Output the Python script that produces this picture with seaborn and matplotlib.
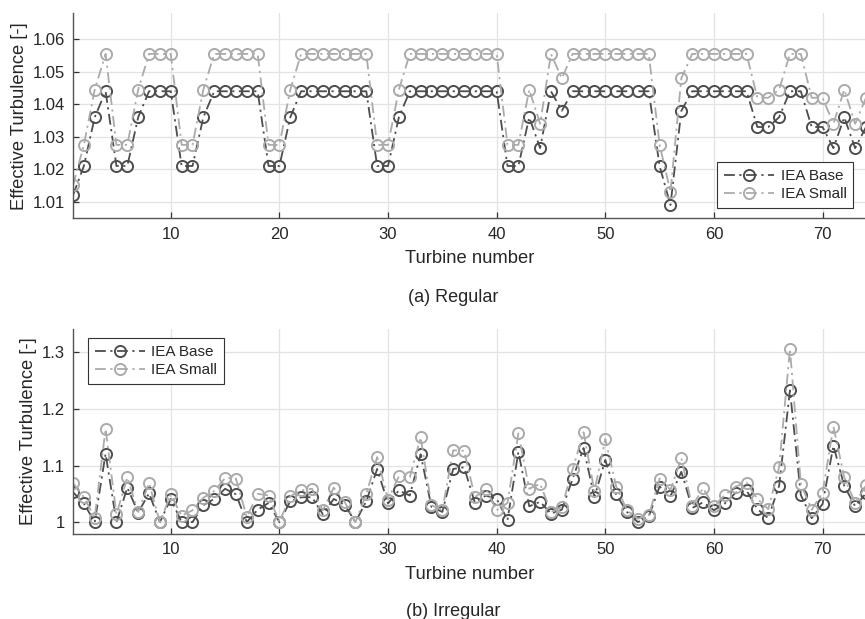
import numpy as np
import pandas as pd
import matplotlib
matplotlib.use("Agg")
import matplotlib.pyplot as plt
from matplotlib.ticker import FixedLocator, FuncFormatter
import seaborn as sns

# ---------------- data ----------------
turbines = list(range(1, 75))

regular_base = [
    1.012, 1.021, 1.036, 1.044, 1.021, 1.021, 1.036, 1.044, 1.044, 1.044,
    1.021, 1.021, 1.036, 1.044, 1.044, 1.044, 1.044, 1.044, 1.021, 1.021,
    1.036, 1.044, 1.044, 1.044, 1.044, 1.044, 1.044, 1.044, 1.021, 1.021,
    1.036, 1.044, 1.044, 1.044, 1.044, 1.044, 1.044, 1.044, 1.044, 1.044,
    1.021, 1.021, 1.036, 1.0265, 1.044, 1.038, 1.044, 1.044, 1.044, 1.044,
    1.044, 1.044, 1.044, 1.044, 1.021, 1.009, 1.038, 1.044, 1.044, 1.044,
    1.044, 1.044, 1.044, 1.033, 1.033, 1.036, 1.044, 1.044, 1.033, 1.033,
    1.0265, 1.036, 1.0265, 1.033]

regular_small = [
    1.015, 1.0275, 1.0445, 1.0555, 1.0275, 1.0275, 1.0445, 1.0555, 1.0555, 1.0555,
    1.0275, 1.0275, 1.0445, 1.0555, 1.0555, 1.0555, 1.0555, 1.0555, 1.0275, 1.0275,
    1.0445, 1.0555, 1.0555, 1.0555, 1.0555, 1.0555, 1.0555, 1.0555, 1.0275, 1.0275,
    1.0445, 1.0555, 1.0555, 1.0555, 1.0555, 1.0555, 1.0555, 1.0555, 1.0555, 1.0555,
    1.0275, 1.0275, 1.0445, 1.034, 1.0555, 1.048, 1.0555, 1.0555, 1.0555, 1.0555,
    1.0555, 1.0555, 1.0555, 1.0555, 1.0275, 1.013, 1.048, 1.0555, 1.0555, 1.0555,
    1.0555, 1.0555, 1.0555, 1.042, 1.042, 1.0445, 1.0555, 1.0555, 1.042, 1.042,
    1.034, 1.0445, 1.034, 1.042]

irregular_base = [
    1.053, 1.033, 1.000, 1.121, 1.000, 1.061, 1.017, 1.051, 1.000, 1.041,
    1.000, 1.000, 1.030, 1.041, 1.059, 1.049, 1.000, 1.022, 1.034, 1.000,
    1.037, 1.044, 1.044, 1.014, 1.041, 1.031, 1.000, 1.037, 1.094, 1.033,
    1.056, 1.047, 1.120, 1.027, 1.018, 1.094, 1.097, 1.034, 1.047, 1.041,
    1.004, 1.124, 1.028, 1.036, 1.015, 1.022, 1.077, 1.131, 1.044, 1.110,
    1.049, 1.018, 1.000, 1.010, 1.063, 1.046, 1.089, 1.025, 1.035, 1.021,
    1.033, 1.052, 1.056, 1.023, 1.007, 1.064, 1.233, 1.048, 1.007, 1.032,
    1.135, 1.064, 1.028, 1.051]

irregular_small = [
    1.069, 1.044, 1.008, 1.165, 1.014, 1.079, 1.018, 1.069, 1.000, 1.049,
    1.011, 1.021, 1.043, 1.055, 1.078, 1.077, 1.009, 1.050, 1.047, 1.000,
    1.046, 1.056, 1.059, 1.021, 1.061, 1.036, 1.000, 1.050, 1.115, 1.040,
    1.081, 1.079, 1.150, 1.030, 1.021, 1.127, 1.126, 1.044, 1.059, 1.021,
    1.034, 1.157, 1.059, 1.068, 1.018, 1.027, 1.094, 1.159, 1.055, 1.147,
    1.063, 1.021, 1.006, 1.012, 1.077, 1.057, 1.113, 1.028, 1.060, 1.028,
    1.048, 1.063, 1.070, 1.041, 1.023, 1.097, 1.306, 1.068, 1.022, 1.052,
    1.169, 1.079, 1.034, 1.065]

series_names = ["IEA Base", "IEA Small"]
regular_yticks = [1.01, 1.02, 1.03, 1.04, 1.05, 1.06]
irregular_yticks = [1.0, 1.1, 1.2, 1.3]
xticks = [10, 20, 30, 40, 50, 60, 70]
captions = ["(a) Regular", "(b) Irregular"]

# ---------------- style ----------------
sns.set_style("whitegrid")
plt.rcParams["font.family"] = ["Liberation Sans", "DejaVu Sans"]

colors = ["#4D4D4D", "#ABABAB"]
dash = (0, (6, 2.5, 1.2, 2.5))

W, H = 865, 619
fig = plt.figure(figsize=(W / 100, H / 100), dpi=100)

def px_axes(left, top, right, bottom):
    return fig.add_axes([left / W, 1 - bottom / H, (right - left) / W, (bottom - top) / H])

ax_top = px_axes(73, 13.3, 866, 218.3)
ax_bot = px_axes(73, 329.3, 866, 534)

def draw(ax, base, small, ylim, yticks, legend_loc, anchor):
    df = pd.DataFrame({"Turbine": turbines, series_names[0]: base, series_names[1]: small})
    for name, col in zip(series_names, colors):
        sns.lineplot(data=df, x="Turbine", y=name, ax=ax, color=col,
                     linestyle=dash, linewidth=1.3,
                     marker="o", markersize=8, markerfacecolor="none",
                     markeredgecolor=col, markeredgewidth=1.4,
                     label=name, errorbar=None)
    ax.set_xlim(1, 74)
    ax.set_ylim(*ylim)
    ax.xaxis.set_major_locator(FixedLocator(xticks))
    ax.yaxis.set_major_locator(FixedLocator(yticks))
    ax.yaxis.set_major_formatter(FuncFormatter(lambda v, p: f"{v:g}"))
    ax.grid(True, color="#E3E3E3", linewidth=0.9)
    for s in ["top", "right"]:
        ax.spines[s].set_visible(False)
    for s in ["left", "bottom"]:
        ax.spines[s].set_visible(True)
        ax.spines[s].set_color("#555555")
        ax.spines[s].set_linewidth(1.0)
    ax.tick_params(axis="both", direction="in", length=4, width=0.9,
                   color="#333333", labelsize=12, labelcolor="#262626",
                   bottom=True, left=True, top=False, right=False, pad=6)
    ax.set_xlabel("Turbine number", fontsize=13.2, color="#262626", labelpad=6)
    ax.set_ylabel("Effective Turbulence [-]", fontsize=13.2, color="#262626", labelpad=3)
    leg = ax.legend(loc=legend_loc, bbox_to_anchor=anchor, fontsize=11,
                    handlelength=3.3, handletextpad=0.4, borderpad=0.45,
                    labelspacing=0.25, fancybox=False, framealpha=1,
                    edgecolor="#333333", borderaxespad=0)
    leg.get_frame().set_linewidth(0.8)

draw(ax_top, regular_base, regular_small, (1.0049, 1.068), regular_yticks,
     "lower right", (0.984, 0.05))
draw(ax_bot, irregular_base, irregular_small, (0.979, 1.341), irregular_yticks,
     "upper left", (0.0185, 0.956))

fig.text(453 / W, 1 - 297 / H, captions[0], ha="center", va="center",
         fontsize=13, color="#262626")
fig.text(453 / W, 1 - 611 / H, captions[1], ha="center", va="center",
         fontsize=13, color="#262626")

fig.savefig("out.png", dpi=100)
